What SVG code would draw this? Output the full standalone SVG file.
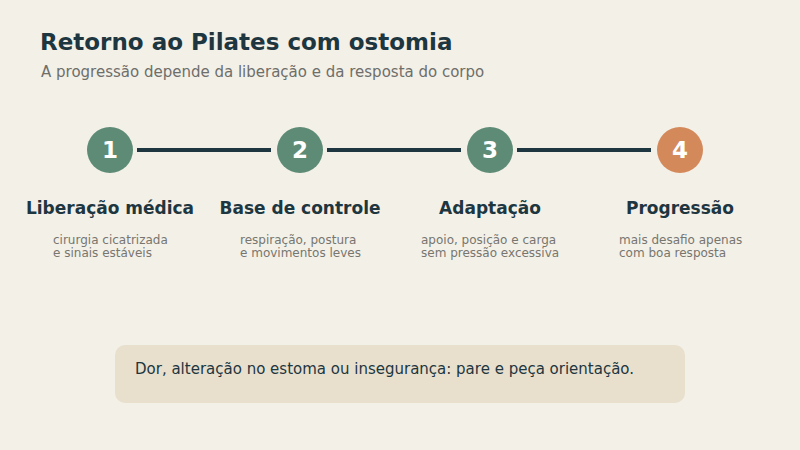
<svg xmlns="http://www.w3.org/2000/svg" width="800" height="450" viewBox="0 0 800 450">
<style>
text{font-family:"DejaVu Sans","Liberation Sans",sans-serif}
.title{font-size:23px;font-weight:bold;fill:#1d3640}
.sub{font-size:15px;fill:#6e6e6a}
.num{font-size:23px;font-weight:bold;fill:#ffffff;text-anchor:middle}
.lbl{font-size:17px;font-weight:bold;fill:#1d3640;text-anchor:middle}
.desc{font-size:12px;fill:#77766f}
.conn{stroke:#1d3640;stroke-width:4}
.g{fill:#5e8b76}
.o{fill:#d4895a}
.note{font-size:15px;fill:#1d3640}
</style>
<rect width="800" height="450" fill="#f3f0e8"/>
<text class="title" x="40" y="50">Retorno ao Pilates com ostomia</text>
<text class="sub" x="41" y="77">A progressão depende da liberação e da resposta do corpo</text>
<g id="connectors">
<line class="conn" x1="137" y1="150" x2="271" y2="150"/>
<line class="conn" x1="327" y1="150" x2="461" y2="150"/>
<line class="conn" x1="517" y1="150" x2="651" y2="150"/>
</g>
<g id="step1">
<circle class="g" cx="110" cy="150" r="23"/>
<text class="num" x="110" y="158">1</text>
<text class="lbl" x="110" y="214">Liberação médica</text>
<text class="desc" x="53" y="244">cirurgia cicatrizada</text>
<text class="desc" x="53" y="257">e sinais estáveis</text>
</g>
<g id="step2">
<circle class="g" cx="300" cy="150" r="23"/>
<text class="num" x="300" y="158">2</text>
<text class="lbl" x="300" y="214">Base de controle</text>
<text class="desc" x="240" y="244">respiração, postura</text>
<text class="desc" x="240" y="257">e movimentos leves</text>
</g>
<g id="step3">
<circle class="g" cx="490" cy="150" r="23"/>
<text class="num" x="490" y="158">3</text>
<text class="lbl" x="490" y="214">Adaptação</text>
<text class="desc" x="421" y="244">apoio, posição e carga</text>
<text class="desc" x="421" y="257">sem pressão excessiva</text>
</g>
<g id="step4">
<circle class="o" cx="680" cy="150" r="23"/>
<text class="num" x="680" y="158">4</text>
<text class="lbl" x="680" y="214">Progressão</text>
<text class="desc" x="619" y="244">mais desafio apenas</text>
<text class="desc" x="619" y="257">com boa resposta</text>
</g>
<g id="note">
<rect x="115" y="345" width="570" height="58" rx="10" fill="#e8dfcd"/>
<text class="note" x="135" y="374">Dor, alteração no estoma ou insegurança: pare e peça orientação.</text>
</g>
</svg>
